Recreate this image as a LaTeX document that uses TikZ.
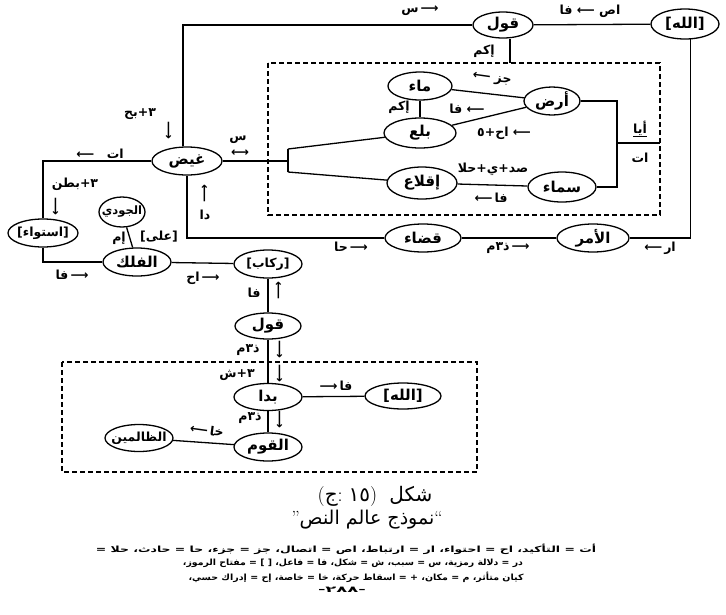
\documentclass[tikz,border=0pt]{standalone}
\usepackage{fontspec}
\usepackage{graphicx}
\usetikzlibrary{arrows.meta, positioning, shapes.geometric}
\TeXXeTstate=1
\newfontfamily\arabicfont[Script=Arabic]{DejaVu Sans}
\newfontfamily\arrowfont{DejaVu Sans}
\newcommand{\toL}{{\arrowfont ⟵}}
\newcommand{\toR}{{\arrowfont ⟶}}
\newcommand{\toLR}{{\arrowfont ⟷}}

\begin{document}
\begin{tikzpicture}[x=1pt, y=-1pt, line width=1.3pt,
    term/.style={ellipse, draw, line width=1.3pt, inner ysep=0pt, inner xsep=-12pt,
      font=\arabicfont\bfseries\fontsize{15}{16}\selectfont},
    small term/.style={term, font=\arabicfont\bfseries\fontsize{12.5}{13}\selectfont},
    rel/.style={inner sep=0pt, font=\arabicfont\bfseries\fontsize{12.5}{13}\selectfont},
    arrdown/.style={rel, rotate=-90},
    arrup/.style={rel, rotate=90},
    dashbox/.style={dash pattern=on 5pt off 3pt, line width=1.2pt},
    note/.style={inner sep=0pt, font=\arabicfont\bfseries\fontsize{8.5}{9}\selectfont}]
  \useasboundingbox (0,0) rectangle (726,614);

  % upper world
  \node[term, minimum width=68pt, minimum height=30pt] (allahT) at (685,24) {[الله]};
  \node[term, minimum width=60pt, minimum height=26pt] (qawlT) at (503,25) {قول};
  \node[term, minimum width=64pt, minimum height=28pt] (maa) at (420,86) {ماء};
  \node[term, minimum width=56pt, minimum height=28pt] (ard) at (552,101) {أرض};
  \node[term, minimum width=72pt, minimum height=30pt] (bala) at (420,133) {بلع};
  \node[term, minimum width=70pt, minimum height=32pt] (iqla) at (422,183) {إقلاع};
  \node[term, minimum width=68pt, minimum height=30pt] (samaa) at (562,187) {سماء};
  \node[term, minimum width=70pt, minimum height=28pt] (ghaid) at (187,161) {غيض};
  \node[term, minimum width=76pt, minimum height=28pt] (qada) at (423,238) {قضاء};
  \node[term, minimum width=72pt, minimum height=28pt] (amr) at (593,238) {الأمر};
  % left side
  \node[small term, minimum width=70pt, minimum height=28pt] (istawa) at (43,233) {[استواء]};
  \node[small term, minimum width=46pt, minimum height=30pt, font=\arabicfont\bfseries\fontsize{11.5}{12}\selectfont] (judi) at (122,212) {الجودي};
  \node[term, minimum width=68pt, minimum height=28pt] (falak) at (137,262) {الفلك};
  \node[small term, minimum width=68pt, minimum height=28pt] (rikab) at (268,264) {[ركاب]};
  % lower world
  \node[term, minimum width=66pt, minimum height=26pt] (qawlB) at (268,326) {قول};
  \node[term, minimum width=68pt, minimum height=27pt] (bada) at (268,397) {بدا};
  \node[term, minimum width=76pt, minimum height=26pt] (allahB) at (403,396) {[الله]};
  \node[term, minimum width=68pt, minimum height=28pt] (qawm) at (268,447) {القوم};
  \node[small term, minimum width=68pt, minimum height=27pt] (zalimin) at (139,438) {الظالمين};

  \coordinate (qdrop) at (510,63);
  \coordinate (fork) at (288,161);
  \coordinate (forkT) at (288,149);
  \coordinate (forkB) at (288,172);
  \coordinate (brk) at (617,143);
  \coordinate (brkR) at (660,143);

  % frames
  \draw[dashbox] (268,63) rectangle (660,215);
  \draw[dashbox] (62,362) rectangle (477,472);

  % connectors
  \draw (ghaid.105) |- (qawlT.west);
  \draw (qawlT) -- (allahT);
  \draw (allahT.290) |- (amr.east);
  \draw (amr) -- (qada);
  \draw (qada.west) -| (ghaid.south);
  \draw (qawlT.south -| qdrop) -- (qdrop);
  \draw (ghaid.east) -- (fork);
  \draw (forkT) -- (forkB);
  \draw (forkT) -- (bala);
  \draw (forkB) -- (iqla);
  \draw (maa) -- (bala);
  \draw (maa) -- (ard);
  \draw (bala) -- (ard);
  \draw (iqla) -- (samaa);
  \draw (ard.east) -| (brk) |- (samaa.east);
  \draw (brk) -- (brkR);
  \draw (ghaid.west) -| (istawa.north);
  \draw (istawa.south) |- (falak.west);
  \draw (judi) -- (falak);
  \draw (falak) -- (rikab);
  \draw (rikab) -- (qawlB);
  \draw (qawlB) -- (bada);
  \draw (bada) -- (allahB);
  \draw (bada) -- (qawm);
  \draw (qawm) -- (zalimin);

  % relation labels
  \node[rel] (lSinT) at (420,11) {س\,\toR};
  \node[rel] (lIttisal) at (590,11) {\beginR اص \toL{} فا\endR};
  \node[rel] (lQawl) at (484,51) {إكم};
  \node[rel] (lMaa) at (399,107) {إكم};
  \node[rel, rotate=-8] (lJuz) at (492,79) {\toL{} جز};
  \node[rel] (lFaBala) at (467,109) {فا\ \toL};
  \node[rel] (lIhBala) at (504,133) {اح+٥\ \toL};
  \node[rel] (lHala) at (493,169) {صد+ي+حلا};
  \node[rel] (lFaIqla) at (491,198) {\toL\,فا};
  \node[rel] (lAya) at (640,129) {\underline{أيا}};
  \node[rel] (lAt) at (640,158) {ات};
  \node[rel] (lBh) at (140,114) {٣+بح};
  \node[arrdown] (aBh) at (168,130) {\toR};
  \node[rel] (lSinF) at (238,140) {س};
  \node[rel] (aSinF) at (240,153) {\toLR};
  \node[rel] (lAtL) at (100,154) {\toL\quad ات};
  \node[rel] (lBatn) at (75,184) {٣+بطن};
  \node[arrdown] (aBatn) at (55,206) {\toR};
  \node[arrup] (aDa) at (205,194) {\toR};
  \node[rel] (lDa) at (205,215) {دا};
  \node[rel] (lIm) at (119,238) {إم};
  \node[rel] (lAla) at (159,237) {[على]};
  \node[rel] (lFaIst) at (72,275) {فا\,\toR};
  \node[rel] (lIhRk) at (203,278) {اح\,\toR};
  \node[rel] (lFaRk) at (254,293) {فا};
  \node[arrup] (aFaRk) at (279,291) {\toR};
  \node[rel] (lDhm1) at (248,350) {ذ٣م};
  \node[arrdown] (aDhm1) at (279,349) {\toR};
  \node[rel] (lSh) at (237,375) {٣+ش};
  \node[arrdown] (aSh) at (279,373) {\toR};
  \node[rel] (lFaBada) at (336,386) {\toR\,فا};
  \node[rel] (lDhm2) at (250,418) {ذ٣م};
  \node[arrdown] (aDhm2) at (279,419) {\toR};
  \node[rel, rotate=-8] (lKha) at (207,430) {\toL\,خا};
  \node[rel] (lHa) at (351,247) {حا\,\toR};
  \node[rel] (lDhm3) at (508,248) {ذ٣م\,\toR};
  \node[rel] (lAr) at (660,248) {\toL\,ار};

  % caption
  \node[inner sep=0pt, font=\fontsize{20}{21}\selectfont] (capA) at (375,496)
    {\beginR{\arabicfont شكل}\ \ ){\arabicfont ١٥}\ :{\arabicfont ج}(\endR};
  \node[inner sep=0pt, font=\fontsize{19}{20}\selectfont] (capB) at (367,520)
    {\beginR``{\arabicfont نموذج عالم النص}''\endR};
  \node[note] (key1) at (346,549) {\resizebox{500pt}{\height}{\beginR أت = التأكيد، اح = احتواء، ار = ارتباط، اص = اتصال، جز = جزء، حا = حادث، حلا =\endR}};
  \node[note] (key2) at (353,563) {\resizebox{340pt}{\height}{\beginR در = دلالة رمزية، س = سبب، ش = شكل، فا = فاعل، [ ] = مفتاح الرموز،\endR}};
  \node[note] (key3) at (356,577) {\resizebox{335pt}{\height}{\beginR كيان متأثر، م = مكان، + = اسقاط حركة، خا = خاصة، إح = إدراك حسي،\endR}};
  \node[note] (page) at (342,590) {\resizebox{48pt}{\height}{-٢٨٨-}};
\end{tikzpicture}
\end{document}
